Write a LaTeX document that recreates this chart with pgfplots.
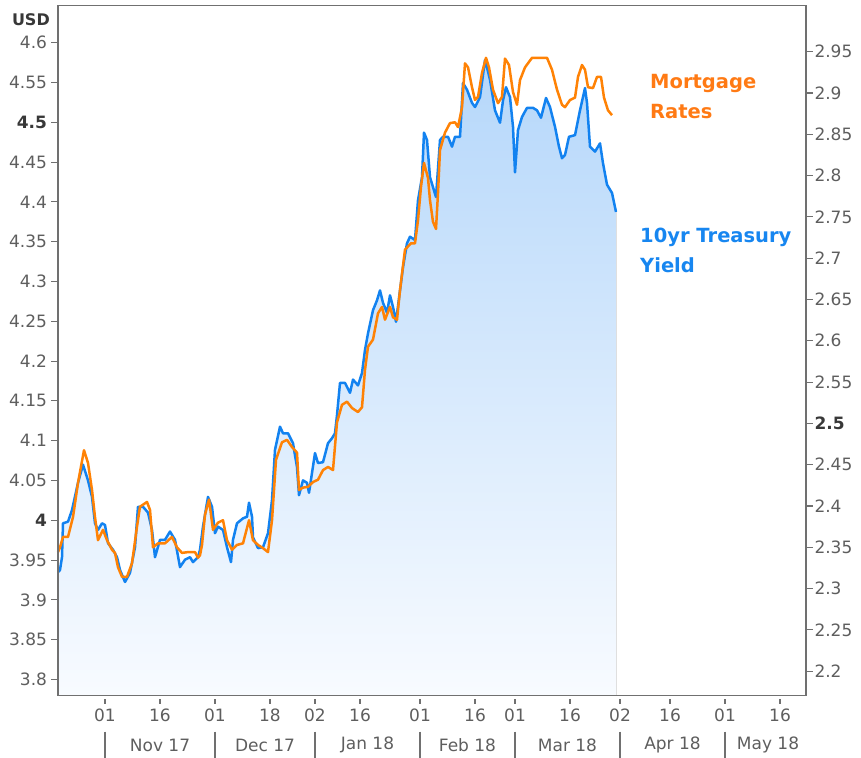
\documentclass[border=0pt]{standalone}
\usepackage{pgfplots}
\pgfplotsset{compat=1.18}
\usepgfplotslibrary{fillbetween}
\usepackage{pgfplotstable}
\usepackage{fontspec}
\setmainfont{DejaVu Sans}
\definecolor{orangeL}{HTML}{FF8205}
\definecolor{blueL}{HTML}{1282F0}
\definecolor{axgray}{HTML}{707070}
\definecolor{txtgray}{HTML}{5E5E5E}
\definecolor{txtdark}{HTML}{383838}
\definecolor{fillTop}{HTML}{B5D7FA}
\definecolor{fillBot}{HTML}{F8FBFF}
\definecolor{lblOrange}{HTML}{FF7A14}
\definecolor{lblBlue}{HTML}{1786F0}

\pgfplotstableread{
n v
-9.4 2.320
-9.0 2.3225
-8.6 2.338
-8.4 2.379
-7.4 2.381
-6.6 2.395
-5.4 2.428
-4.4 2.450
-3.4 2.431
-2.6 2.411
-2.0 2.379
-1.4 2.371
-0.6 2.379
0 2.377
0.6 2.355
1.6 2.347
2.4 2.338
3.0 2.3225
4.0 2.308
5.0 2.319
6.0 2.350
6.6 2.399
7.6 2.399
8.6 2.392
9.4 2.371
10.0 2.338
11.0 2.359
12.0 2.359
13.0 2.369
14.0 2.359
15.0 2.326
16.0 2.335
17.0 2.338
17.6 2.332
18.6 2.338
19.0 2.347
19.6 2.375
20.6 2.411
21.4 2.399
22.0 2.367
22.6 2.375
23.6 2.371
24.4 2.350
25.2 2.332
25.6 2.359
26.4 2.379
27.6 2.385
28.4 2.387
28.8 2.404
29.4 2.387
29.6 2.362
30.6 2.349
31.6 2.350
32.6 2.367
33.4 2.407
34.0 2.468
35.0 2.496
35.6 2.488
36.6 2.488
37.6 2.476
38.4 2.447
38.8 2.413
39.6 2.431
40.4 2.428
40.8 2.416
42.0 2.464
42.6 2.452
43.6 2.453
44.6 2.476
45.4 2.482
46.0 2.488
46.4 2.510
47.0 2.549
48.0 2.549
49.0 2.537
49.6 2.553
50.6 2.546
51.4 2.561
52.0 2.589
52.6 2.609
53.6 2.637
54.4 2.649
55.0 2.661
55.6 2.646
56.4 2.634
57.0 2.655
57.6 2.641
58.2 2.623
59.0 2.661
59.6 2.689
60.4 2.718
61.0 2.726
62.0 2.722
62.6 2.770
63.4 2.798
63.8 2.852
64.4 2.843
65.0 2.798
65.6 2.786
66.2 2.774
67.0 2.843
67.6 2.847
68.6 2.847
69.4 2.835
70.0 2.847
71.0 2.847
71.6 2.912
72.4 2.904
73.4 2.888
74.0 2.883
75.0 2.895
76.0 2.940
76.4 2.931
77.0 2.916
78.0 2.879
79.0 2.864
79.6 2.891
80.2 2.907
81.0 2.895
81.6 2.859
82.0 2.804
82.6 2.855
83.4 2.871
84.4 2.882
85.6 2.882
86.4 2.879
87.2 2.870
88.2 2.894
89.0 2.883
90.0 2.859
90.8 2.835
91.4 2.821
92.0 2.825
92.8 2.847
94.0 2.849
95.0 2.879
96.0 2.906
96.4 2.888
97.0 2.835
98.0 2.829
99.0 2.839
99.6 2.815
100.4 2.789
101.4 2.779
102.2 2.756
}\treasury

\pgfplotstableread{
n v
-9.4 3.960
-9.0 3.966
-8.4 3.979
-7.4 3.979
-6.4 4.004
-5.4 4.047
-4.2 4.088
-3.4 4.072
-2.6 4.038
-2.0 4.004
-1.4 3.975
-0.4 3.988
0.4 3.975
1.4 3.963
2.0 3.959
2.6 3.941
3.4 3.929
4.4 3.929
5.4 3.946
6.4 3.992
7.0 4.017
8.4 4.023
9.0 4.013
9.6 3.966
10.6 3.971
12.0 3.971
13.4 3.979
14.4 3.966
15.4 3.959
16.6 3.960
18.0 3.960
18.6 3.953
19.0 3.956
19.4 3.969
20.0 4.007
20.8 4.026
21.6 3.988
22.6 3.997
23.6 4.000
24.4 3.975
25.4 3.963
26.4 3.969
27.6 3.971
28.8 4.000
29.6 3.975
30.6 3.969
31.6 3.965
32.6 3.960
33.4 4.000
34.2 4.076
35.4 4.098
36.4 4.101
37.4 4.092
38.4 4.085
38.8 4.038
39.6 4.041
40.6 4.042
41.6 4.048
42.6 4.051
43.6 4.063
44.6 4.067
45.6 4.063
46.4 4.123
47.4 4.145
48.4 4.149
49.4 4.141
50.6 4.136
51.4 4.142
52.0 4.189
52.6 4.218
53.6 4.227
54.6 4.260
55.4 4.268
56.0 4.252
57.0 4.268
57.6 4.255
58.4 4.252
59.0 4.289
60.0 4.340
61.2 4.348
62.0 4.348
62.6 4.377
63.2 4.419
63.8 4.449
64.6 4.430
65.0 4.402
65.6 4.375
66.2 4.366
66.6 4.411
67.0 4.465
68.0 4.487
69.0 4.499
70.0 4.500
70.6 4.494
71.4 4.519
72.0 4.574
72.6 4.569
73.4 4.544
74.0 4.528
74.6 4.532
75.4 4.562
76.2 4.581
76.8 4.569
77.6 4.541
78.6 4.524
79.4 4.532
80.0 4.580
80.8 4.572
81.6 4.538
82.4 4.522
83.0 4.553
84.0 4.569
85.4 4.581
88.4 4.581
89.4 4.566
90.4 4.541
91.4 4.522
92.0 4.519
93.0 4.528
94.0 4.531
94.6 4.557
95.4 4.572
96.0 4.566
96.6 4.544
97.6 4.543
98.4 4.557
99.2 4.557
99.8 4.531
100.6 4.515
101.4 4.509
}\mortgage

\tikzset{
  tickfont/.style={font=\fontsize{17bp}{20bp}\selectfont, text=txtgray},
  tk/.style={axgray, line width=1.1bp},
}
\pgfplotsset{
  frame/.style={scale only axis, width=748bp, height=690bp, xmin=-9.4, xmax=140.2, clip=false},
}

\begin{document}
\begin{tikzpicture}
% treasury yield (right scale), area and line
\begin{axis}[frame, ymin=2.1703, ymax=3.0057, hide axis]
\addplot[draw=none, name path=base, forget plot] coordinates {(-9.4,2.1703) (102.2,2.1703)};
\addplot[draw=none, name path=tr, forget plot] table[x=n, y=v] {\treasury};
\addplot[draw=none, top color=fillTop, bottom color=fillBot] fill between[of=tr and base];
\addplot[blueL, line width=2.5bp, line join=round] table[x=n, y=v] {\treasury};
\node[anchor=west, align=left, inner sep=0pt, text=lblBlue,
  font=\bfseries\fontsize{19.5bp}{30bp}\selectfont] at (axis cs:107,2.710) {10yr Treasury\\Yield};
\end{axis}
% mortgage rates (left scale)
\begin{axis}[frame, ymin=3.7796, ymax=4.6465,
  axis x line=none, axis y line*=left,
  axis line style={axgray, line width=1.1bp},
  tick align=outside, major tick length=7bp,
  tick style={draw=none},
  ytick={3.8,3.85,3.9,3.95,4,4.05,4.1,4.15,4.2,4.25,4.3,4.35,4.4,4.45,4.5,4.55,4.6},
  yticklabels={3.8,3.85,3.9,3.95,\textcolor{txtdark}{\textbf{4}},4.05,4.1,4.15,4.2,4.25,4.3,4.35,4.4,4.45,\textcolor{txtdark}{\textbf{4.5}},4.55,4.6},
  yticklabel style={tickfont, xshift=-0.5bp},
]
\addplot[orangeL, line width=2.5bp, line join=round] table[x=n, y=v] {\mortgage};
\pgfplotsinvokeforeach{3.8,3.85,3.9,3.95,4,4.05,4.1,4.15,4.2,4.25,4.3,4.35,4.4,4.45,4.5,4.55,4.6}{
  \draw[tk] (axis cs:-9.4,#1) -- ([xshift=-7bp]axis cs:-9.4,#1);
}
\node[anchor=west, align=left, inner sep=0pt, text=lblOrange,
  font=\bfseries\fontsize{19.5bp}{30bp}\selectfont] at (axis cs:109,4.5318) {Mortgage\\Rates};
\end{axis}
% frame, date axis and right scale
\begin{axis}[frame, name=main, ymin=2.1703, ymax=3.0057,
  axis line style={axgray, line width=1.1bp},
  tick align=outside, major tick length=7bp,
  tick style={draw=none},
  xtick pos=bottom, ytick pos=right, yticklabel pos=right,
  xtick={0,11,22,33,42,51,63,74,82,93,103,113,124,135},
  xticklabels={01,16,01,18,02,16,01,16,01,16,02,16,01,16},
  xticklabel style={tickfont, yshift=-2.5bp},
  ytick={2.2,2.25,2.3,2.35,2.4,2.45,2.5,2.55,2.6,2.65,2.7,2.75,2.8,2.85,2.9,2.95},
  yticklabels={2.2,2.25,2.3,2.35,2.4,2.45,\textcolor{txtdark}{\textbf{2.5}},2.55,2.6,2.65,2.7,2.75,2.8,2.85,2.9,2.95},
  yticklabel style={tickfont, xshift=-2bp},
]
\pgfplotsinvokeforeach{0,11,22,33,42,51,63,74,82,93,103,113,124,135}{
  \draw[tk] ([yshift=-3.5bp]axis cs:#1,2.1703) -- ([yshift=-8.5bp]axis cs:#1,2.1703);
}
\pgfplotsinvokeforeach{2.2,2.25,2.3,2.35,2.4,2.45,2.5,2.55,2.6,2.65,2.7,2.75,2.8,2.85,2.9,2.95}{
  \draw[tk] (axis cs:140.2,#1) -- ([xshift=7bp]axis cs:140.2,#1);
}
\pgfplotsinvokeforeach{0,22,42,63,82,103,124}{
  \draw[tk] ([yshift=-36bp]axis cs:#1,2.1703) -- ([yshift=-62bp]axis cs:#1,2.1703);
}
\node[tickfont, inner sep=0pt] at ([yshift=-49.5bp]axis cs:11,2.1703) {Nov 17};
\node[tickfont, inner sep=0pt] at ([yshift=-49.5bp]axis cs:32,2.1703) {Dec 17};
\node[tickfont, inner sep=0pt] at ([yshift=-49.5bp]axis cs:52.5,2.1703) {Jan 18};
\node[tickfont, inner sep=0pt] at ([yshift=-49.5bp]axis cs:72.5,2.1703) {Feb 18};
\node[tickfont, inner sep=0pt] at ([yshift=-49.5bp]axis cs:92.5,2.1703) {Mar 18};
\node[tickfont, inner sep=0pt] at ([yshift=-49.5bp]axis cs:113.5,2.1703) {Apr 18};
\node[tickfont, inner sep=0pt] at ([yshift=-49.5bp]axis cs:132.6,2.1703) {May 18};
\end{axis}
\node[anchor=east, inner sep=0pt, text=txtdark, font=\bfseries\fontsize{16bp}{18bp}\selectfont]
  at ([xshift=-8bp,yshift=-13.5bp]main.north west) {USD};
\pgfresetboundingbox
\path ([xshift=-58bp,yshift=-62.3bp]main.south west) rectangle ([xshift=55bp,yshift=5.7bp]main.north east);
\end{tikzpicture}
\end{document}
